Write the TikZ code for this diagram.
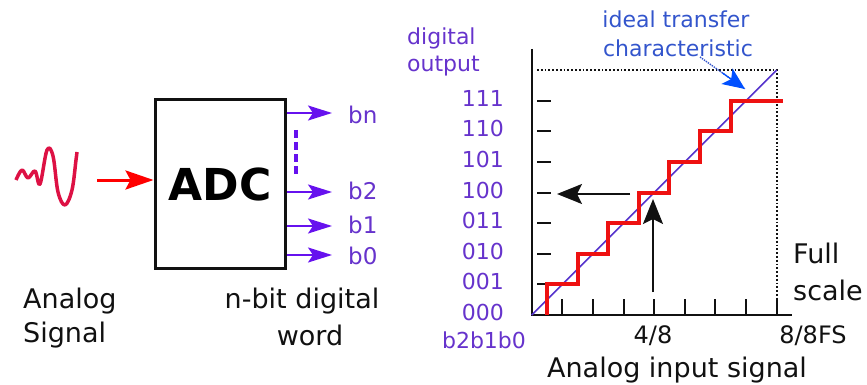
\documentclass[tikz,border=0pt]{standalone}
\usepackage{fontspec}
\setmainfont{DejaVu Sans}
\usetikzlibrary{arrows.meta,positioning,calc}
\definecolor{Ink}{HTML}{111111}
\definecolor{Bits}{HTML}{6633CC}
\definecolor{BitLine}{HTML}{6611EE}
\definecolor{Ideal}{HTML}{3355CC}
\definecolor{IdealLine}{HTML}{5533CC}
\definecolor{Pointer}{HTML}{0050FF}
\definecolor{Stair}{HTML}{EE1111}
\definecolor{Wave}{HTML}{DD1144}
\tikzset{
  lbl/.style={inner sep=0pt,text=Ink,font=\fontsize{27}{30}\selectfont},
  bitlbl/.style={inner sep=0pt,text=Bits,font=\fontsize{22}{26}\selectfont},
  outlbl/.style={inner sep=0pt,text=Bits,font=\fontsize{23}{26}\selectfont},
  adcbox/.style={draw=Ink,line width=3pt,minimum width=130pt,minimum height=168pt,inner sep=0pt,font=\bfseries\fontsize{44}{46}\selectfont},
  bitArrow/.style={-{Stealth[length=24pt,width=15pt,inset=5pt]},line width=2pt,draw=BitLine},
  sigArrow/.style={-{Stealth[length=28pt,width=19pt,inset=5pt]},line width=3pt,draw=red},
  probeArrow/.style={-{Stealth[length=25pt,width=20pt,inset=5pt]},line width=1.8pt,draw=Ink},
  axis/.style={line width=2pt,draw=Ink},
  tick/.style={line width=2pt,draw=Ink},
  frameDots/.style={dotted,line width=1.8pt,draw=Ink},
  stair/.style={line width=4pt,draw=Stair},
  ideal/.style={line width=1.6pt,draw=IdealLine}
}
\begin{document}
\begin{tikzpicture}[x=1pt,y=-1pt]
  \useasboundingbox (0,0) rectangle (867,385);
  % analog signal and converter
  \draw[Wave,line width=3.5pt,line join=round] plot[smooth,tension=0.6] coordinates {(16,180) (22,170) (28,178) (35,171) (40,184) (47,150) (53,156) (58,192) (65,205) (72,190) (76,160) (77,152)};
  \node[adcbox] (adc) at (220,184) {ADC};
  \coordinate (sig) at (97,180);
  \draw[sigArrow] (sig) -- (sig -| adc.west);
  \node[lbl,anchor=base west] (analog) at (23,308) {Analog};
  \node[lbl,anchor=base west] (signal) at (23,342) {Signal};
  % output bits
  \node[outlbl,anchor=west] (bn) at (348,115) {bn};
  \node[outlbl,anchor=west] (b2) at (348,191) {b2};
  \node[outlbl,anchor=west] (b1) at (348,225) {b1};
  \node[outlbl,anchor=west] (b0) at (348,256) {b0};
  \foreach \b/\y in {bn/113,b2/192,b1/226,b0/255}
    \draw[bitArrow] (adc.east |- 0,\y) -- (332,\y);
  \draw[BitLine,line width=3.5pt,dash pattern=on 8pt off 4pt] (296,130) -- (296,176);
  \node[lbl,anchor=base] (nbit) at (302,308) {n-bit digital};
  \node[lbl,anchor=base] (word) at (310,345) {word};
  % transfer characteristic
  \coordinate (O) at (531.7,315);
  \coordinate (ytop) at (531.7,49);
  \coordinate (xend) at (792,315);
  \coordinate (fs) at (776.7,70);
  \draw[frameDots] (537,70) -- (fs) -- (776.7,298);
  \draw[axis] (ytop) -- (O) -- (xend);
  \foreach \i in {1,...,7}
    \draw[tick] (537,{315-30.6*\i}) -- (551,{315-30.6*\i});
  \foreach \i in {1,...,8}
    \draw[tick] ({531.7+30.6*\i},315) -- ++(0,-16);
  \foreach \v [count=\i from 0] in {000,001,010,011,100,101,110,111}
    \node[bitlbl,anchor=base east] (y\v) at (504,{320.5-30.6*\i}) {\v};
  \draw[ideal] (O) -- (fs);
  \draw[stair] (547,315) foreach \i in {1,...,6} {|- ({547+30.6*\i},{315-30.6*\i})} |- (782.6,100.8);
  \coordinate (probe) at (653,292);
  \coordinate (hit) at (653,199);
  \draw[probeArrow] (probe) -- (hit);
  \coordinate (code) at (630,194);
  \coordinate (level) at (557,194);
  \draw[probeArrow] (code) -- (level);
  \coordinate (tagtail) at (700,57);
  \coordinate (tagtip) at (745,89);
  \draw[densely dotted,line width=1.4pt,draw=Ideal] (tagtail) -- (tagtip);
  \draw[-{Stealth[length=22pt,width=19pt,inset=5pt]},draw=Pointer,line width=1.2pt] ($(tagtip)!0.5!(tagtail)$) -- (tagtip);
  \node[bitlbl,text=Ideal,anchor=base] (idealA) at (676,28) {ideal transfer};
  \node[bitlbl,text=Ideal,anchor=base] (idealB) at (678,57) {characteristic};
  \node[bitlbl,anchor=base west] (dig) at (407,45) {digital};
  \node[bitlbl,anchor=base west] (outp) at (407,72) {output};
  \node[bitlbl,anchor=base] (order) at (484,348) {b2b1b0};
  \node[lbl,anchor=base,font=\fontsize{24}{26}\selectfont] (half) at (653,343) {4/8};
  \node[lbl,anchor=base,font=\fontsize{24}{26}\selectfont] (full) at (813,343) {8/8FS};
  \node[lbl,anchor=base] (inlbl) at (677,377) {Analog input signal};
  \node[lbl,anchor=base west] (fullA) at (793,263) {Full};
  \node[lbl,anchor=base west] (fullB) at (793,300) {scale};
\end{tikzpicture}
\end{document}
